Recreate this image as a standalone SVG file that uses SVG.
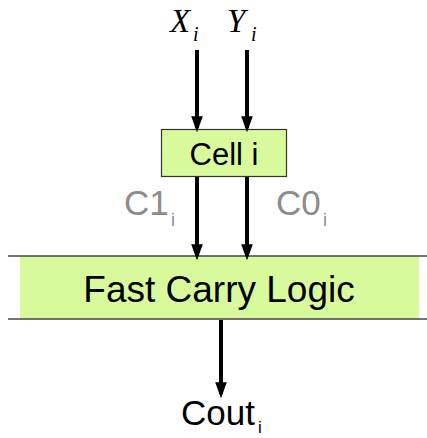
<svg xmlns="http://www.w3.org/2000/svg" width="427" height="438" viewBox="0 0 427 438">
<style>
.lbl{font-family:"Liberation Sans",Arial,sans-serif;fill:#000}
.var{font-family:"Liberation Serif","Times New Roman",serif;font-style:italic;fill:#000}
.gray{font-family:"Liberation Sans",Arial,sans-serif;fill:#8c8c8c}
.wire{stroke:#000;stroke-width:4;fill:none;marker-end:url(#ah)}
</style>
<defs>
<marker id="ah" markerUnits="userSpaceOnUse" markerWidth="16" markerHeight="22" refX="16" refY="8" orient="auto" viewBox="0 0 22 16">
<path d="M0,0 L22,8 L0,16 Z" fill="#000"/>
</marker>
</defs>
<g id="inputs">
<text class="var" x="170" y="32" font-size="33">X</text>
<text class="var" x="193" y="41" font-size="20">i</text>
<text class="var" x="227" y="32" font-size="33">Y</text>
<text class="var" x="251" y="41" font-size="20">i</text>
</g>
<g id="fast-carry">
<rect x="20" y="256" width="399" height="63" fill="#d8fa9d"/>
<line x1="8" y1="256" x2="427" y2="256" stroke="#444" stroke-width="1.5"/>
<line x1="8" y1="319" x2="427" y2="319" stroke="#444" stroke-width="1.5"/>
<text class="lbl" x="219" y="302" font-size="37" text-anchor="middle">Fast Carry Logic</text>
</g>
<g id="cell">
<rect x="161.5" y="129.5" width="125" height="47" fill="#d8fa9d" stroke="#333" stroke-width="1.2"/>
<text class="lbl" x="224" y="165" font-size="31" text-anchor="middle">Cell i</text>
</g>
<g id="connectors">
<line class="wire" x1="197" y1="50" x2="197" y2="128"/>
<line class="wire" x1="247" y1="50" x2="247" y2="128"/>
<line class="wire" x1="197" y1="177" x2="197" y2="256"/>
<line class="wire" x1="247" y1="177" x2="247" y2="256"/>
<line class="wire" x1="221" y1="320" x2="221" y2="394"/>
</g>
<g id="carry-labels">
<text class="gray" x="124" y="215" font-size="35">C1</text>
<text class="gray" x="171" y="226" font-size="18">i</text>
<text class="gray" x="276" y="215" font-size="35">C0</text>
<text class="gray" x="323" y="226" font-size="18">i</text>
</g>
<g id="output">
<text class="lbl" x="181" y="425" font-size="35">Cout</text>
<text class="lbl" x="258" y="433" font-size="17">i</text>
</g>
</svg>
